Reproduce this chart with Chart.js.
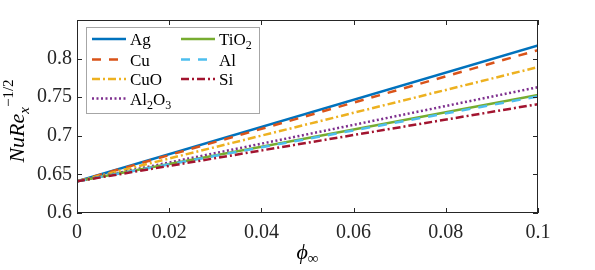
<!DOCTYPE html>
<html>
<head>
<meta charset="utf-8">
<script src="https://cdn.jsdelivr.net/npm/chart.js@4.4.0/dist/chart.umd.min.js"></script>
<style>
  html, body { margin: 0; padding: 0; background: #fff; }
</style>
</head>
<body>
<canvas id="chart" width="595" height="270"></canvas>
<script>
// volume fraction (x) and NuRe_x^-1/2 values
const phi = [0, 0.1];
const agVals = [0.641, 0.817];
const cuVals = [0.641, 0.811];
const cuoVals = [0.641, 0.789];
const al2o3Vals = [0.641, 0.763];
const tio2Vals = [0.641, 0.753];
const alVals = [0.641, 0.751];
const siVals = [0.641, 0.741];

const xTicks = [0, 0.02, 0.04, 0.06, 0.08, 0.1];
const xTickLabels = ['0', '0.02', '0.04', '0.06', '0.08', '0.1'];
const yTicks = [0.6, 0.65, 0.7, 0.75, 0.8];
const yTickLabels = ['0.6', '0.65', '0.7', '0.75', '0.8'];

const SERIF = '"Liberation Serif", "DejaVu Serif", serif';
const INK = '#262626';

const series = [
    { name: 'Ag', sub: '', vals: agVals, color: '#0072BD', dash: [] },
    { name: 'Cu', sub: '', vals: cuVals, color: '#D95319', dash: [9, 8] },
    { name: 'CuO', sub: '', vals: cuoVals, color: '#EDB120', dash: [8, 3, 2, 3] },
    { name: 'Al', sub: ['2', 'O', '3'], vals: al2o3Vals, color: '#7E2F8E', dash: [2, 2.5] },
    { name: 'TiO', sub: ['2'], vals: tio2Vals, color: '#77AC30', dash: [] },
    { name: 'Al', sub: '', vals: alVals, color: '#4DBEEE', dash: [9, 8] },
    { name: 'Si', sub: '', vals: siVals, color: '#A2142F', dash: [8, 3, 2, 3] }
];

const datasets = series.map(s => ({
    label: s.name,
    data: phi.map((x, i) => ({ x: x, y: s.vals[i] })),
    borderColor: s.color,
    borderWidth: 2.5,
    borderDash: s.dash,
    pointRadius: 0,
    fill: false,
    tension: 0
})).reverse(); // Ag drawn last, on top

// draw text pieces: [text, size, italic, dy]
const drawRuns = (ctx, runs, x, y) => {
    runs.forEach(r => {
        ctx.font = (r[2] ? 'italic ' : '') + r[1] + 'px ' + SERIF;
        ctx.fillText(r[0], x, y + r[3]);
        x += ctx.measureText(r[0]).width;
    });
    return x;
};
const runsWidth = (ctx, runs) => runs.reduce((w, r) => {
    ctx.font = (r[2] ? 'italic ' : '') + r[1] + 'px ' + SERIF;
    return w + ctx.measureText(r[0]).width;
}, 0);

const frame = {
    id: 'frame',
    afterDraw(chart) {
        const ctx = chart.ctx;
        const { left, right, top, bottom } = chart.chartArea;
        const xs = chart.scales.x, ys = chart.scales.y;
        ctx.save();
        ctx.strokeStyle = INK;
        ctx.lineWidth = 1;
        ctx.strokeRect(left + 0.5, top + 0.5, right - left - 1, bottom - top - 1);
        ctx.beginPath();
        xTicks.forEach(v => {
            const px = Math.round(xs.getPixelForValue(v)) + 0.5;
            ctx.moveTo(px, bottom); ctx.lineTo(px, bottom - 5);
            ctx.moveTo(px, top); ctx.lineTo(px, top + 5);
        });
        yTicks.forEach(v => {
            const py = Math.round(ys.getPixelForValue(v)) + 0.5;
            ctx.moveTo(left, py); ctx.lineTo(left + 5, py);
            ctx.moveTo(right, py); ctx.lineTo(right - 5, py);
        });
        ctx.stroke();

        // legend, two columns filled top to bottom
        ctx.fillStyle = '#fff';
        ctx.fillRect(86, 27, 173, 86);
        ctx.strokeStyle = '#a6a6a6';
        ctx.strokeRect(86.5, 27.5, 173, 86);
        const rowY = [39, 59.5, 79, 98.5];
        series.forEach((s, i) => {
            const col = i < 4 ? 0 : 1;
            const y = rowY[col === 0 ? i : i - 4];
            const x0 = col === 0 ? 92 : 181;
            ctx.strokeStyle = s.color;
            ctx.lineWidth = 2.5;
            ctx.setLineDash(s.dash);
            ctx.beginPath();
            ctx.moveTo(x0, y); ctx.lineTo(x0 + 34, y);
            ctx.stroke();
            ctx.setLineDash([]);
            ctx.fillStyle = '#000';
            ctx.textBaseline = 'alphabetic';
            const runs = [[s.name, 17, false, 0]];
            if (s.sub.length) {
                // Al2O3 / TiO2 with subscripts
                s.sub.forEach(t => runs.push(/\d/.test(t) ? [t, 12, false, 4] : [t, 17, false, 0]));
            }
            drawRuns(ctx, runs, x0 + 38, y + 6);
        });

        // axis titles
        ctx.fillStyle = '#000';
        const xRuns = [['\u03d5', 22, true, 0], ['\u221e', 15, false, 4]];
        const xw = runsWidth(ctx, xRuns);
        drawRuns(ctx, xRuns, (left + right) / 2 - xw / 2, 259);

        const yRuns = [['NuRe', 22, true, 0], ['x', 15, true, 5], ['\u22121/2', 15, false, -11]];
        const yw = runsWidth(ctx, yRuns);
        ctx.translate(24, 117);
        ctx.rotate(-Math.PI / 2);
        drawRuns(ctx, yRuns, -yw / 2 - 4, 0);
        ctx.restore();
    }
};

new Chart(document.getElementById('chart'), {
    type: 'line',
    data: { datasets: datasets },
    options: {
        responsive: false,
        animation: false,
        devicePixelRatio: 1,
        layout: { padding: { top: 20, right: 57, left: 0, bottom: 0 } },
        plugins: { legend: { display: false }, tooltip: { enabled: false } },
        scales: {
            x: {
                type: 'linear',
                min: 0, max: 0.1,
                afterBuildTicks: scale => { scale.ticks = xTicks.map(v => ({ value: v })); },
                afterFit: scale => { scale.height = 57; },
                grid: { display: false, drawTicks: false },
                border: { display: false },
                ticks: {
                    padding: 8,
                    color: INK,
                    font: { family: SERIF, size: 20 },
                    callback: (v, i) => xTickLabels[i]
                }
            },
            y: {
                type: 'linear',
                min: 0.6, max: 0.85,
                afterBuildTicks: scale => { scale.ticks = yTicks.map(v => ({ value: v })); },
                afterFit: scale => { scale.width = 77; },
                grid: { display: false, drawTicks: false },
                border: { display: false },
                ticks: {
                    padding: 5,
                    color: INK,
                    font: { family: SERIF, size: 20 },
                    callback: (v, i) => yTickLabels[i]
                }
            }
        }
    },
    plugins: [frame]
});
</script>
</body>
</html>
